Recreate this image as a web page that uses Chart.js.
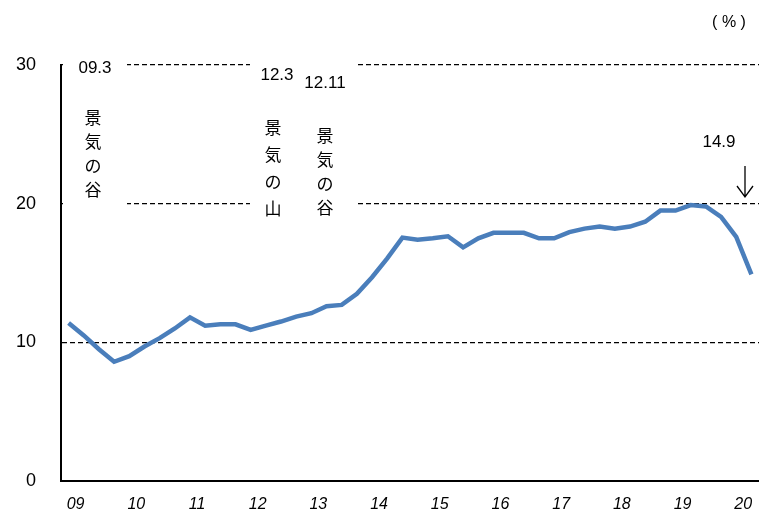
<!DOCTYPE html>
<html>
<head>
<meta charset="utf-8">
<script src="https://cdn.jsdelivr.net/npm/chart.js@4"></script>
<style>
html,body{margin:0;padding:0;background:#fff;overflow:hidden;}
#wrap{width:759px;height:511px;position:relative;}
</style>
</head>
<body>
<div id="wrap"><canvas id="c"></canvas></div>
<script>
// Years shown on the x axis (one label per year, placed at Q1)
const years = ['09','10','11','12','13','14','15','16','17','18','19','20'];
// Quarterly categories 2009Q1 .. 2020Q2
const quarters = ['09Q1','09Q2','09Q3','09Q4','10Q1','10Q2','10Q3','10Q4','11Q1','11Q2','11Q3','11Q4',
  '12Q1','12Q2','12Q3','12Q4','13Q1','13Q2','13Q3','13Q4','14Q1','14Q2','14Q3','14Q4',
  '15Q1','15Q2','15Q3','15Q4','16Q1','16Q2','16Q3','16Q4','17Q1','17Q2','17Q3','17Q4',
  '18Q1','18Q2','18Q3','18Q4','19Q1','19Q2','19Q3','19Q4','20Q1','20Q2'];
// Series values (%)
const values = [11.4,10.5,9.5,8.6,9.0,9.7,10.3,11.0,11.8,11.2,11.3,11.3,
  10.9,11.2,11.5,11.85,12.1,12.6,12.7,13.5,14.7,16.05,17.55,17.4,
  17.5,17.65,16.85,17.5,17.9,17.9,17.9,17.5,17.5,17.95,18.2,18.35,
  18.2,18.35,18.7,19.5,19.5,19.9,19.8,19.05,17.6,14.9];
// Y tick values
const yTicks = [0,10,20,30];
// Annotation texts
const notes = [
  {date:'09.3', label:'景気の谷'},
  {date:'12.3', label:'景気の山'},
  {date:'12.11', label:'景気の谷'}
];
const lastLabel = '14.9';
const unitLabel = '( % )';

const NUM_FONT = '"Liberation Sans", Arial, sans-serif';
const JP_FONT = '"Noto Sans CJK JP", sans-serif';

// Pin the plot area to the reference frame
const AREA = {top:65, bottom:481, left:61, right:759};
const pinArea = {
  id:'pinArea',
  afterLayout(chart){
    const a = chart.chartArea;
    const dy = AREA.bottom - a.bottom;
    a.top = AREA.top; a.bottom = AREA.bottom; a.left = AREA.left; a.right = AREA.right;
    a.width = a.right - a.left; a.height = a.bottom - a.top;
    const y = chart.scales.y;
    y.top = AREA.top; y.bottom = AREA.bottom; y.height = y.bottom - y.top;
    y.right = AREA.left; y.left = 0; y.width = AREA.left;
    y.configure();
    const x = chart.scales.x;
    x.top += dy; x.bottom += dy;
    x.left = AREA.left; x.right = AREA.right; x.width = x.right - x.left;
    x.configure();
  }
};

const annot = {
  id:'annot',
  afterDraw(chart){
    const ctx = chart.ctx;
    ctx.save();
    // white boxes behind annotation texts (they hide the gridlines there)
    ctx.fillStyle = '#fff';
    ctx.fillRect(63, 50, 64, 160);
    ctx.fillRect(250, 50, 108, 175);
    ctx.fillStyle = '#000';
    ctx.textAlign = 'center';
    ctx.textBaseline = 'middle';
    ctx.font = '17px ' + NUM_FONT;
    ctx.fillText(notes[0].date, 95, 68);
    ctx.fillText(notes[1].date, 277, 75);
    ctx.fillText(notes[2].date, 325, 83);
    ctx.font = '17px ' + JP_FONT;
    const drawV = (txt, x, y0, step) => {
      [...txt].forEach((ch, i) => ctx.fillText(ch, x, y0 + i*step));
    };
    drawV(notes[0].label, 93, 118, 24);
    drawV(notes[1].label, 273, 128, 27);
    drawV(notes[2].label, 325, 136, 24);
    ctx.font = '17px ' + NUM_FONT;
    ctx.fillText(lastLabel, 719, 142);
    ctx.strokeStyle = '#000';
    ctx.lineWidth = 1.3;
    ctx.beginPath();
    ctx.moveTo(745, 166); ctx.lineTo(745, 197);
    ctx.moveTo(737, 186); ctx.lineTo(745, 197); ctx.lineTo(753, 186);
    ctx.stroke();
    ctx.font = '16px ' + NUM_FONT;
    ctx.fillText(unitLabel, 729, 23);
    ctx.restore();
  }
};

new Chart(document.getElementById('c'), {
  type:'line',
  data:{
    labels: quarters,
    datasets:[{
      data: values,
      borderColor:'#4a7ebb',
      borderWidth:4.5,
      pointRadius:0,
      tension:0,
      fill:false
    }]
  },
  options:{
    responsive:true,
    maintainAspectRatio:false,
    animation:false,
    devicePixelRatio:1,
    layout:{padding:{top:65,right:0,left:0,bottom:0}},
    plugins:{legend:{display:false},tooltip:{enabled:false}},
    scales:{
      x:{
        type:'category',
        offset:true,
        grid:{display:false, drawTicks:false},
        border:{display:true,color:'#000',width:2},
        ticks:{
          autoSkip:false, maxRotation:0, minRotation:0,
          padding:14, labelOffset:7,
          color:'#000',
          font:{family:NUM_FONT,size:16,style:'italic'},
          callback:(v,i)=> (i % 4 === 0) ? years[i/4] : ''
        },
        afterFit(s){ s.paddingRight = 0; s.paddingLeft = 0; }
      },
      y:{
        min:0,max:30,
        afterBuildTicks(s){ s.ticks = yTicks.map(v=>({value:v})); },
        grid:{
          drawTicks:false,
          color:(c)=> c.tick && c.tick.value === 0 ? 'rgba(0,0,0,0)' : '#000',
          lineWidth:1.2
        },
        border:{display:true,color:'#000',width:2,dash:[5,3]},
        ticks:{
          padding:25,color:'#000',
          font:{family:NUM_FONT,size:18}
        },
        afterFit(s){ s.width = 61; }
      }
    }
  },
  plugins:[pinArea, annot]
});
</script>
</body>
</html>
